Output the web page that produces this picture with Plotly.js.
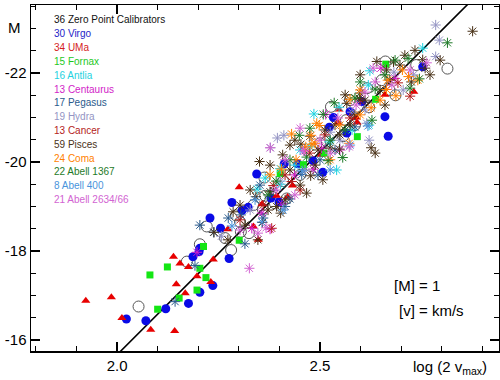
<!DOCTYPE html>
<html><head><meta charset="utf-8">
<script src="https://cdn.plot.ly/plotly-3.0.1.min.js"></script>
<style>html,body{margin:0;padding:0;background:#fff}#c{width:500px;height:380px}</style>
</head><body><div id="c"></div>
<script>
// ---- data (log(2 v_max), M) ----
const calX = [2.053,2.172,2.281,2.204,2.221,2.293,2.305,2.325,2.363,2.352,2.365,2.389,2.336,2.359,2.418,2.477,2.500,2.557,2.527,2.621,2.652,2.616,2.671,2.686,2.661,2.737,2.814,2.586,2.517,2.451,2.303,2.266,2.409,2.564,2.574];
const calY = [-16.75,-17.76,-18.02,-18.15,-18.55,-18.80,-18.43,-18.40,-19.65,-19.20,-19.24,-19.07,-19.03,-18.94,-19.18,-19.91,-20.42,-20.58,-21.24,-21.23,-21.84,-21.66,-21.62,-21.50,-22.26,-22.18,-22.10,-20.83,-20.46,-19.71,-18.65,-18.29,-19.57,-20.94,-21.39];

const virgoX = [2.023,2.071,2.120,2.176,2.204,2.236,2.276,2.187,2.202,2.204,2.283,2.308,2.323,2.229,2.255,2.344,2.412,2.445,2.483,2.507,2.379,2.399,2.523,2.533,2.566,2.574,2.603,2.660,2.668,2.753];
const virgoY = [-16.47,-16.43,-16.70,-16.82,-17.07,-17.22,-17.83,-17.87,-17.98,-18.06,-19.09,-18.91,-18.98,-18.74,-18.51,-19.73,-19.96,-19.96,-20.03,-19.77,-19.19,-19.10,-20.78,-21.00,-20.65,-21.13,-21.36,-21.02,-20.58,-22.14];

const umaX = [1.923,1.986,2.012,2.083,2.142,2.139,2.155,2.176,2.146,2.168,2.197,2.231,2.237,2.301,2.273,2.420,2.393,2.357,2.432,2.336,2.348,2.503,2.544,2.547,2.589,2.591,2.660,2.731];
const umaY = [-16.88,-16.96,-16.49,-16.23,-16.20,-17.87,-17.72,-17.64,-17.25,-17.05,-17.43,-17.30,-17.81,-19.43,-18.49,-19.21,-19.24,-19.05,-19.47,-18.55,-18.25,-20.16,-20.88,-21.18,-21.00,-20.89,-21.51,-21.58];

const fornaxX = [2.124,2.081,2.213,2.204,2.219,2.197,2.153,2.100,2.301,2.402,2.459,2.510,2.592,2.637,2.662];
const fornaxY = [-17.64,-17.46,-18.10,-17.61,-17.40,-17.12,-16.94,-16.69,-18.24,-19.74,-19.94,-20.20,-20.57,-21.41,-22.20];

const antliaX = [2.345,2.402,2.365,2.438,2.403,2.523,2.541,2.547,2.621,2.623,2.619,2.753,2.579,2.475,2.451,2.485];
const antliaY = [-19.39,-19.85,-19.64,-19.93,-19.50,-20.45,-19.82,-21.23,-20.83,-22.05,-21.73,-22.56,-20.72,-20.34,-20.27,-21.08];

const centaurusX = [2.197,2.332,2.377,2.437,2.463,2.504,2.483,2.514,2.650,2.685,2.549,2.406,2.357];
const centaurusY = [-17.97,-18.51,-18.49,-19.71,-20.25,-20.31,-19.84,-21.07,-22.11,-21.88,-20.27,-19.06,-18.85];

const pegasusX = [2.192,2.143,2.204,2.274,2.305,2.238,2.414,2.360,2.385,2.455,2.426,2.315,2.500,2.537,2.586,2.495,2.352];
const pegasusY = [-17.67,-16.86,-18.58,-18.74,-18.81,-18.42,-19.00,-18.74,-19.36,-19.72,-19.17,-18.16,-20.05,-20.27,-20.79,-19.71,-19.48];

const hydraX = [2.257,2.395,2.411,2.378,2.621,2.785,2.794,2.785,2.730,2.705,2.615,2.611,2.403,2.549,2.579,2.463,2.525,2.682,2.328];
const hydraY = [-18.33,-20.54,-20.60,-20.32,-20.49,-23.08,-22.74,-22.37,-21.96,-21.62,-20.87,-21.17,-19.57,-20.49,-21.12,-19.82,-20.67,-22.02,-18.92];

const cancerX = [2.385,2.360,2.381,2.430,2.722,2.512,2.692,2.475,2.574,2.303,2.414,2.599,2.451];
const cancerY = [-19.47,-19.03,-18.51,-19.56,-21.48,-20.61,-21.78,-20.20,-20.99,-18.70,-19.71,-21.39,-19.37];

const piscesX = [2.426,2.351,2.408,2.377,2.342,2.393,2.467,2.507,2.477,2.403,2.358,2.636,2.626,2.525,2.548,2.453,2.475,2.562,2.599,2.640,2.681,2.664,2.734,2.753,2.725,2.876,2.566,2.597,2.239,2.286,2.315,2.347,2.426,2.451,2.488,2.512,2.537,2.549,2.586,2.611,2.648,2.672,2.697,2.709,2.759,2.771,2.796,2.438,2.414,2.372,2.303,2.328,2.273,2.574,2.495,2.599,2.660,2.377];
const piscesY = [-20.38,-20.01,-20.16,-19.33,-19.22,-19.00,-19.30,-19.60,-19.69,-18.85,-18.64,-20.20,-20.32,-20.31,-20.29,-20.40,-20.58,-21.51,-21.55,-22.26,-22.25,-22.07,-22.51,-22.30,-21.80,-22.94,-21.32,-21.43,-18.42,-18.88,-18.58,-18.25,-19.82,-19.48,-19.93,-20.72,-20.83,-20.61,-21.06,-21.39,-21.62,-21.84,-22.18,-22.40,-22.11,-21.96,-22.29,-20.49,-19.15,-18.92,-19.03,-19.37,-18.25,-20.83,-20.27,-21.96,-21.28,-19.93];

const comaX = [2.430,2.478,2.480,2.405,2.498,2.465,2.488,2.492,2.599,2.626,2.667,2.687,2.574,2.664,2.703,2.741,2.718,2.572,2.525,2.441,2.377,2.549,2.599,2.648];
const comaY = [-20.63,-20.60,-20.40,-19.84,-20.82,-20.34,-20.42,-20.87,-21.62,-21.22,-21.84,-21.49,-21.41,-21.63,-22.07,-21.84,-21.92,-20.42,-20.05,-20.05,-19.71,-20.83,-21.06,-21.39];

const a1367X = [2.449,2.520,2.556,2.508,2.467,2.599,2.717,2.745,2.814,2.660,2.636,2.562,2.475,2.426,2.392,2.586,2.535,2.685,2.722,2.372,2.525,2.628];
const a1367Y = [-20.60,-20.03,-20.10,-21.07,-20.11,-21.80,-22.33,-21.87,-22.68,-21.96,-21.64,-20.72,-20.76,-20.05,-19.57,-21.44,-21.33,-22.29,-21.66,-19.26,-20.49,-20.94];

const a400X = [2.283,2.357,2.409,2.456,2.618,2.525,2.574,2.340];
const a400Y = [-18.56,-18.65,-18.92,-19.80,-20.81,-19.82,-20.38,-19.15];

const a2634X = [2.326,2.459,2.572,2.438,2.636,2.763,2.631,2.377,2.367,2.347,2.500,2.544,2.589,2.677,2.414,2.451,2.722,2.611,2.525,2.392,2.303];
const a2634Y = [-17.61,-20.25,-20.34,-19.26,-21.80,-22.23,-22.11,-20.32,-18.52,-18.40,-20.49,-20.99,-21.28,-21.73,-20.05,-20.76,-22.07,-21.57,-20.20,-19.37,-18.47];

// fit line end points
const fitX = [1.95, 2.95];
const fitY = [-15.21, -24.33];

// legend lines
const legendLabels = ['36 Zero Point Calibrators','30 Virgo','34 UMa','15 Fornax','16 Antlia','13 Centaurus','17 Pegasus','19 Hydra','13 Cancer','59 Pisces','24 Coma','22 Abell 1367','8 Abell 400','21 Abell 2634/66'];

// ticks
const xTickVals = [2.0, 2.5];
const xTickText = ['2.0', '2.5'];
const yTickVals = [-22, -20, -18, -16];
const yTickText = ['-22', '-20', '-18', '-16'];

// ---- styles ----
const legendColors = ['#111111','#2323c8','#d41c1c','#1ec81e','#1ed2e0','#d21ec8','#2a5a8c','#9494c4','#b41c1c','#4a3218','#ff7f00','#1e7a28','#4a94dc','#d264d2'];
const F = 'Liberation Sans, Arial, Helvetica, sans-serif';

function star(x, y, color) {
  return {x: x, y: y, type: 'scatter', mode: 'markers', hoverinfo: 'skip',
    marker: {symbol: 'asterisk-open', size: 8.5, color: color, line: {color: color, width: 1}}};
}

const traces = [
  {x: fitX, y: fitY, type: 'scatter', mode: 'lines', line: {color: '#000', width: 1.6}, hoverinfo: 'skip'},
  {x: calX, y: calY, type: 'scatter', mode: 'markers', hoverinfo: 'skip',
    marker: {symbol: 'circle-open', size: 11, color: '#555', line: {color: '#555', width: 1}}},
  {x: virgoX, y: virgoY, type: 'scatter', mode: 'markers', hoverinfo: 'skip',
    marker: {symbol: 'circle', size: 9, color: '#0a0ae6'}},
  {x: umaX, y: umaY, type: 'scatter', mode: 'markers', hoverinfo: 'skip',
    marker: {symbol: 'triangle-up', size: 8, color: '#e80000'}},
  {x: fornaxX, y: fornaxY, type: 'scatter', mode: 'markers', hoverinfo: 'skip',
    marker: {symbol: 'square', size: 7, color: '#14e614'}},
  star(antliaX, antliaY, legendColors[4]),
  star(centaurusX, centaurusY, legendColors[5]),
  star(pegasusX, pegasusY, legendColors[6]),
  star(hydraX, hydraY, legendColors[7]),
  star(cancerX, cancerY, legendColors[8]),
  star(piscesX, piscesY, legendColors[9]),
  star(comaX, comaY, legendColors[10]),
  star(a1367X, a1367Y, legendColors[11]),
  star(a400X, a400Y, legendColors[12]),
  star(a2634X, a2634Y, legendColors[13])
];

const L = 31, T = 5, PW = 468, PH = 346;
const pxX = p => (p - L) / PW;
const pxY = p => (T + PH - p) / PH;

const ann = [];
legendLabels.forEach((t, i) => {
  ann.push({text: t, xref: 'paper', yref: 'paper', x: pxX(52), y: pxY(20 + i * 13.8),
    xanchor: 'left', yanchor: 'middle', showarrow: false,
    font: {family: F, size: 10, color: legendColors[i]}});
});
ann.push({text: 'M', xref: 'paper', yref: 'paper', x: pxX(14), y: pxY(27), xanchor: 'center', yanchor: 'middle', showarrow: false, font: {family: F, size: 15, color: '#000'}});
ann.push({text: 'log (2 v<sub>max</sub>)', xref: 'paper', yref: 'paper', x: pxX(411), y: pxY(368), xanchor: 'left', yanchor: 'middle', showarrow: false, font: {family: F, size: 15, color: '#000'}});
ann.push({text: '[M] = 1', xref: 'paper', yref: 'paper', x: pxX(392), y: pxY(285), xanchor: 'left', yanchor: 'middle', showarrow: false, font: {family: F, size: 15, color: '#000'}});
ann.push({text: '[v] = km/s', xref: 'paper', yref: 'paper', x: pxX(397), y: pxY(310), xanchor: 'left', yanchor: 'middle', showarrow: false, font: {family: F, size: 15, color: '#000'}});

const axCommon = {
  showgrid: false, zeroline: false, showline: true, linecolor: '#000', linewidth: 1.5,
  mirror: 'ticks', ticks: 'inside', ticklen: 9, tickwidth: 1.3, tickcolor: '#000',
  tickfont: {family: F, size: 15, color: '#000'}
};

const layout = {
  width: 500, height: 380,
  margin: {l: L, r: 1, t: T, b: 29, pad: 0},
  paper_bgcolor: '#fff', plot_bgcolor: '#fff',
  showlegend: false, hovermode: false,
  xaxis: Object.assign({}, axCommon, {
    range: [1.788, 2.941], tickmode: 'array', tickvals: xTickVals, ticktext: xTickText,
    minor: {tickmode: 'linear', tick0: 2.0, dtick: 0.1, ticklen: 5, tickwidth: 1.2, tickcolor: '#000', ticks: 'inside'}
  }),
  yaxis: Object.assign({}, axCommon, {
    range: [-15.75, -23.53], tickmode: 'array', tickvals: yTickVals, ticktext: yTickText,
    minor: {tickmode: 'linear', tick0: -22, dtick: 0.5, ticklen: 5, tickwidth: 1.2, tickcolor: '#000', ticks: 'inside'}
  }),
  annotations: ann
};

Plotly.newPlot('c', traces, layout, {staticPlot: true, displayModeBar: false});
</script>
</body></html>
